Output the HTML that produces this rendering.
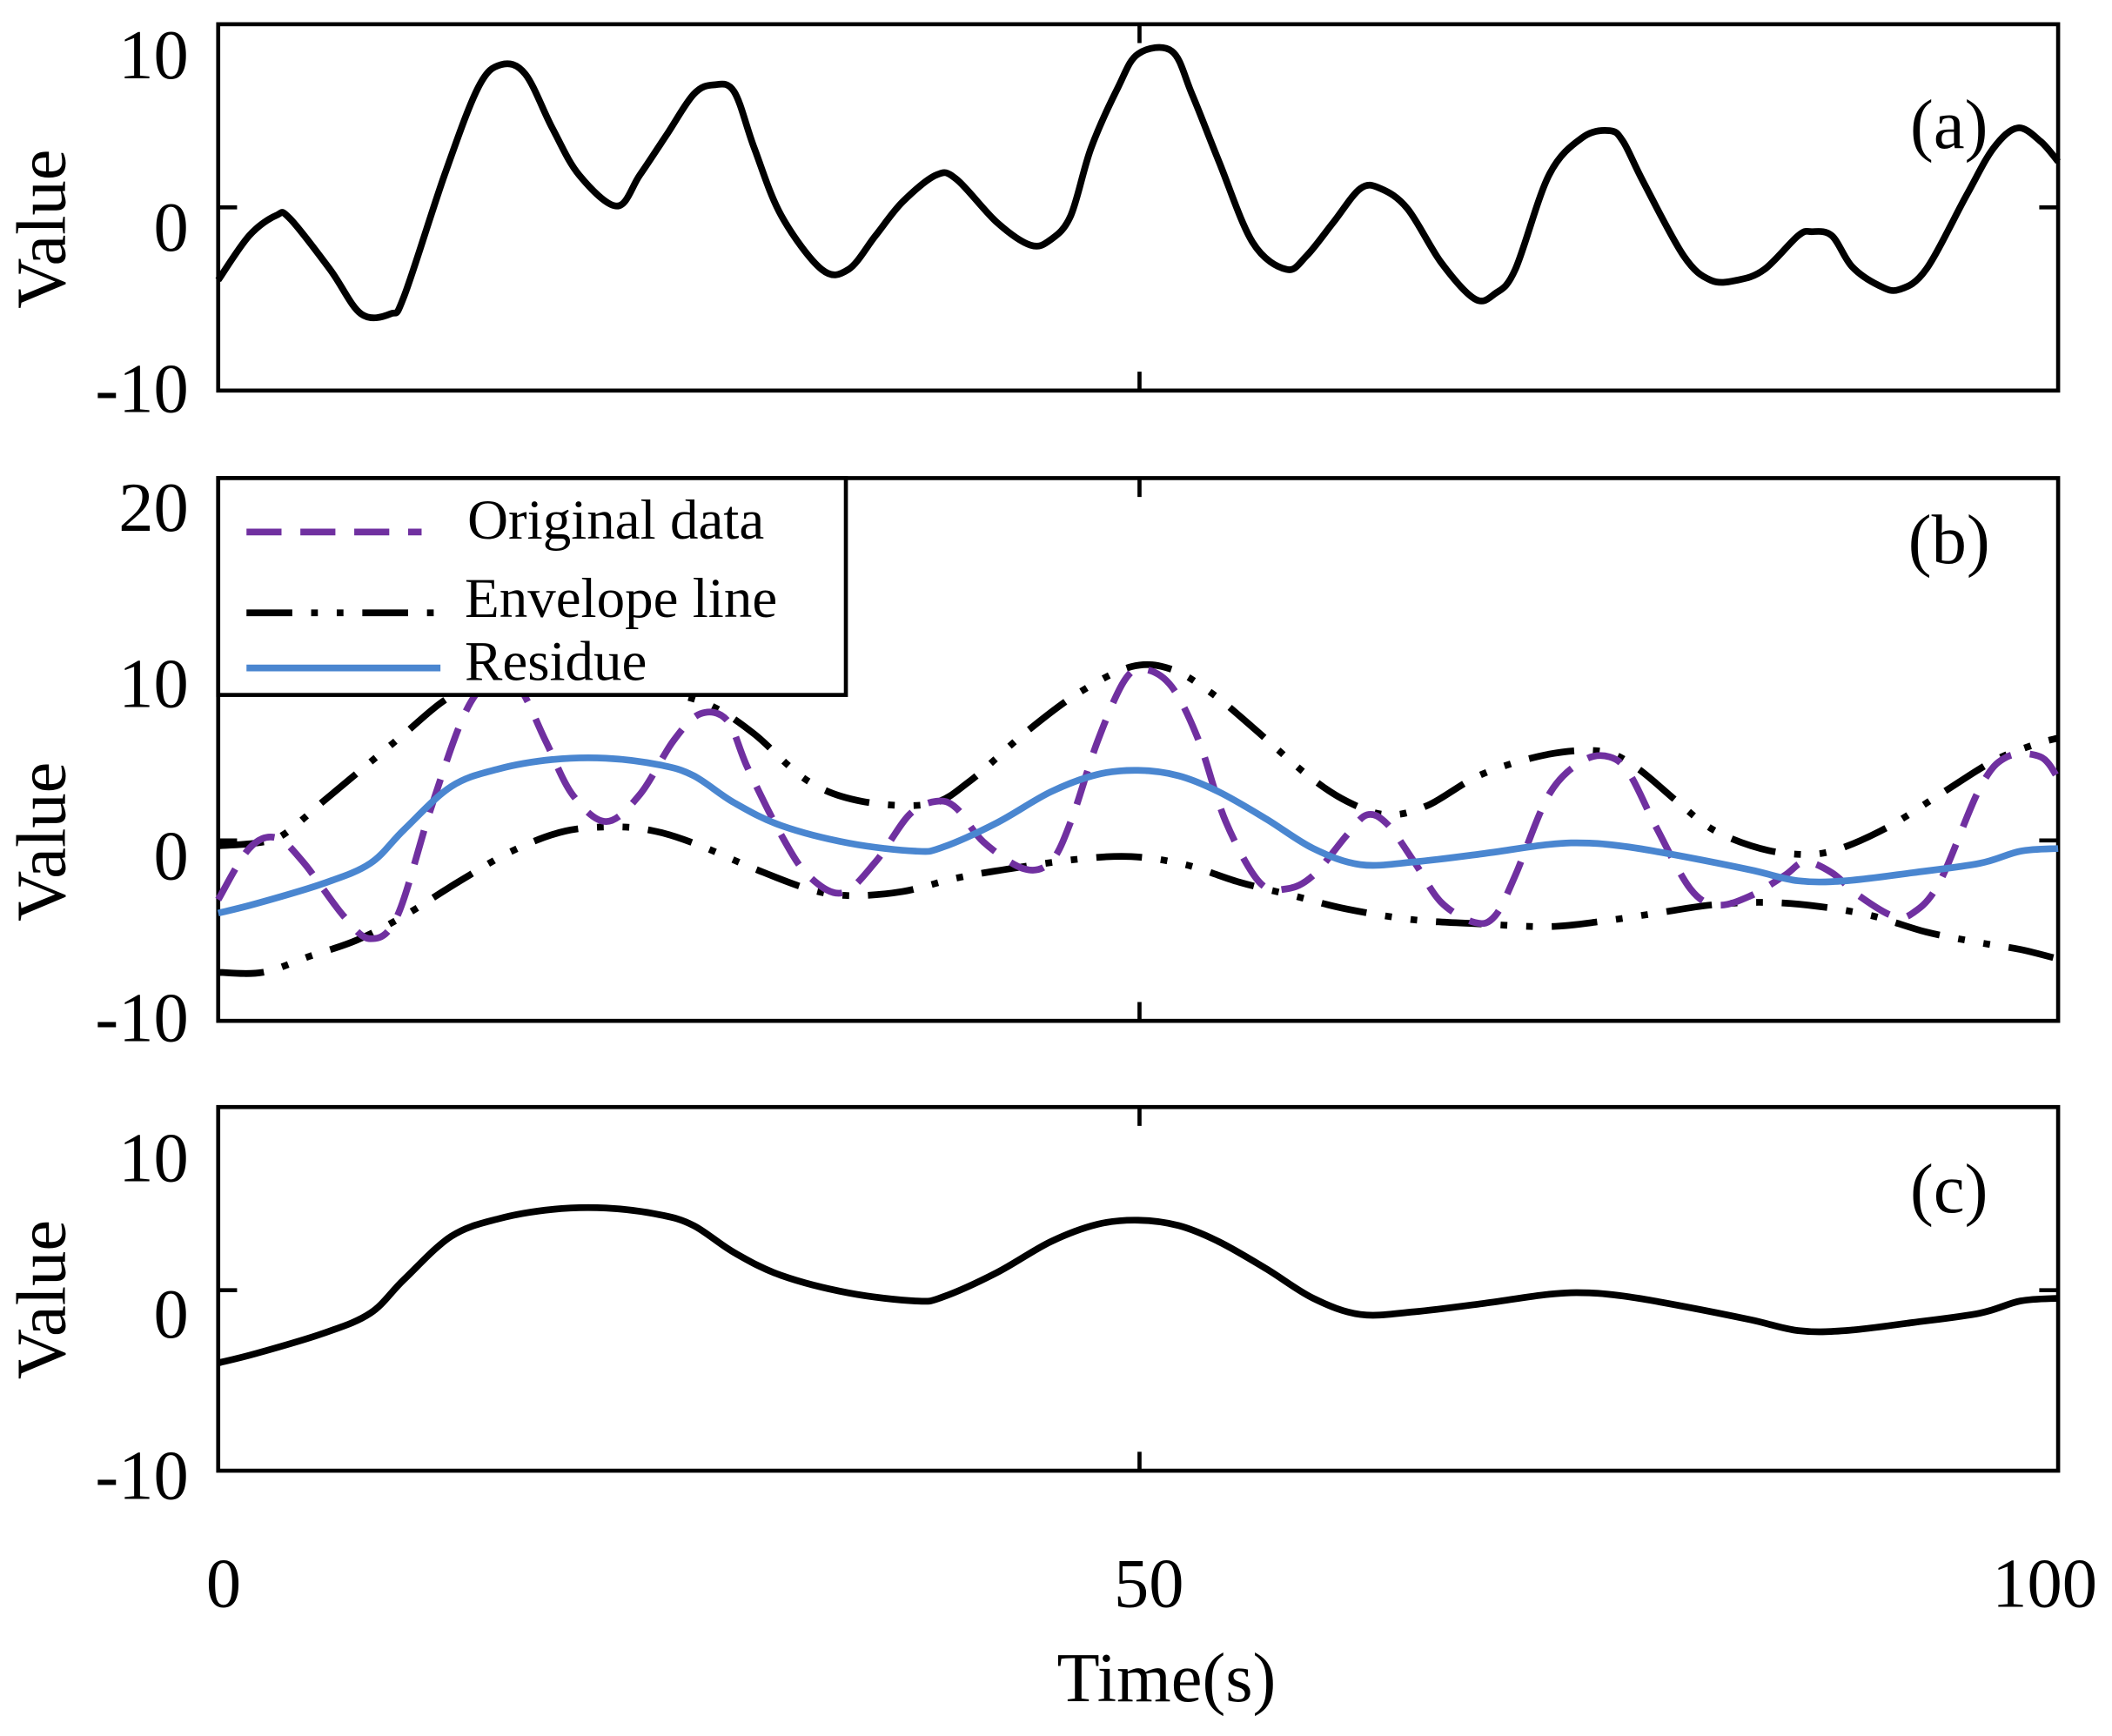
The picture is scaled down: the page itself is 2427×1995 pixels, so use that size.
<!DOCTYPE html>
<html><head><meta charset="utf-8"><style>html,body{margin:0;padding:0;background:#fff}svg{display:block}text{font-family:"Liberation Serif",serif;fill:#000}</style></head>
<body>
<svg id="s" width="2427" height="1995" viewBox="0 0 1568 1289" preserveAspectRatio="none" xmlns="http://www.w3.org/2000/svg">
<rect width="1568" height="1289" fill="#fff"/>
<g fill="none" stroke="#000" stroke-width="3">
<rect x="162" y="18" width="1366" height="272"/>
<rect x="162" y="355" width="1366" height="403"/>
<rect x="162" y="822" width="1366" height="270"/>
<path d="M162 154h14M1528 154h-14M846 18v14M846 290v-14M162 624h14M1528 624h-14M846 355v14M846 758v-14M162 958h14M1528 958h-14M846 822v14M846 1092v-14"/>
</g>
<g font-size="52" text-anchor="end">
<text x="140" y="58">10</text><text x="140" y="186">0</text><text x="140" y="306">-10</text>
<text x="140" y="394">20</text><text x="140" y="525">10</text><text x="140" y="653">0</text><text x="140" y="773">-10</text>
<text x="140" y="877">10</text><text x="140" y="993">0</text><text x="140" y="1113">-10</text>
</g>
<g font-size="52" text-anchor="middle">
<text x="166" y="1193">0</text><text x="853" y="1193">50</text><text x="1518" y="1193">100</text>
<text x="866" y="1263">Time(s)</text>
<text transform="translate(48,170) rotate(-90)">Value</text>
<text transform="translate(48,625) rotate(-90)">Value</text>
<text transform="translate(48,965) rotate(-90)">Value</text>
<text x="1447" y="110">(a)</text><text x="1447" y="418">(b)</text><text x="1447" y="900">(c)</text>
</g>
<g id="curves" fill="none" stroke-width="5" stroke-linejoin="round"></g>
<rect x="162" y="355" width="466" height="161" fill="#fff" stroke="#000" stroke-width="3"/>
<path d="M183 395H313" stroke="#7030a0" stroke-width="5" stroke-dasharray="26 14"/>
<path d="M183 455H327" stroke="#000" stroke-width="5" stroke-dasharray="34 14 5 14 5 14"/>
<path d="M183 496H327" stroke="#4a86d0" stroke-width="5"/>
<g font-size="42"><text x="347" y="400">Original data</text><text x="345" y="458">Envelope line</text><text x="345" y="505">Residue</text></g>
</svg>
<script>
function cr(p){var d="M"+p[0][0]+" "+p[0][1];for(var i=0;i<p.length-1;i++){var p0=p[i-1]||p[i],p1=p[i],p2=p[i+1],p3=p[i+2]||p2;d+="C"+(p1[0]+(p2[0]-p0[0])/6)+" "+(p1[1]+(p2[1]-p0[1])/6)+" "+(p2[0]-(p3[0]-p1[0])/6)+" "+(p2[1]-(p3[1]-p1[1])/6)+" "+p2[0]+" "+p2[1];}return d;}
function P(s){return s.trim().split(/\s+/).map(function(t){return t.split(",").map(Number)});}
var a=P("162,208 185,175 205,160 215,162 245,200 268,233 290,233 300,220 330,130 355,65 372,48 390,55 410,95 430,130 458,153 475,130 495,100 515,70 530,63 545,68 560,110 580,160 610,200 630,200 650,175 670,150 695,130 710,133 740,165 765,182 780,178 795,160 810,110 830,65 845,40 870,38 885,70 905,120 930,180 955,200 970,190 990,165 1010,140 1025,140 1045,155 1070,195 1095,222 1110,218 1125,200 1150,130 1175,102 1195,97 1205,105 1220,135 1250,190 1270,208 1290,208 1310,200 1335,175 1345,172 1360,175 1375,198 1395,212 1410,215 1430,200 1460,145 1480,110 1498,95 1515,105 1528,120");
var c=P("162,1012 190,1005 240,990 275,975 300,950 335,918 370,905 410,898 450,897 490,902 515,910 545,930 580,947 630,960 680,966 700,963 740,945 780,922 815,909 845,906 875,910 905,922 940,942 975,964 1010,976 1050,974 1100,968 1150,961 1180,960 1210,963 1250,970 1300,980 1335,988 1370,988 1420,982 1470,975 1500,966 1528,964");
var o=P("162,668 185,630 205,622 225,640 255,680 275,697 295,680 320,600 345,530 365,505 385,510 405,550 425,590 450,610 475,590 500,550 520,530 540,535 555,570 580,620 600,650 625,663 650,640 675,605 695,595 710,600 730,625 760,645 780,640 795,610 815,550 835,505 850,497 870,510 890,550 910,610 935,655 955,660 975,650 1000,620 1015,605 1030,612 1050,640 1070,670 1095,685 1110,680 1125,650 1150,590 1175,565 1195,562 1210,575 1230,615 1255,660 1275,672 1300,665 1325,650 1340,640 1360,648 1380,665 1405,680 1420,678 1440,655 1470,585 1490,562 1515,562 1528,578");
var u=P("162,628 190,626 210,620 240,595 270,570 300,545 330,520 360,505 400,502 450,505 500,515 530,525 560,545 600,580 640,595 690,597 720,580 760,545 800,515 840,495 870,497 900,515 930,540 970,575 1000,595 1030,605 1060,598 1100,575 1150,560 1190,558 1215,570 1245,595 1270,615 1300,628 1330,634 1360,632 1400,615 1440,590 1480,565 1510,553 1528,548");
var l=P("162,722 195,722 230,710 265,698 300,680 340,655 380,632 420,617 460,614 490,618 520,628 560,645 600,660 630,665 670,662 710,652 750,645 800,638 840,636 880,642 920,655 960,665 1000,675 1050,683 1100,686 1150,688 1190,684 1230,678 1270,672 1310,670 1350,673 1390,680 1430,692 1470,700 1500,705 1528,712");
var b=c.map(function(q){return [q[0],q[1]-334]});
var NS="http://www.w3.org/2000/svg",g=document.getElementById("curves");
function add(pts,stroke,dash,w){var e=document.createElementNS(NS,"path");e.setAttribute("d",cr(pts));e.setAttribute("stroke",stroke);if(dash)e.setAttribute("stroke-dasharray",dash);if(w)e.setAttribute("stroke-width",w);g.appendChild(e);}
add(a,"#000");add(c,"#000");
add(u,"#000","34 14 5 14 5 14");add(l,"#000","34 14 5 14 5 14");
add(o,"#7030a0","26 14");add(b,"#4a86d0",null,"5");
</script>
</body></html>
